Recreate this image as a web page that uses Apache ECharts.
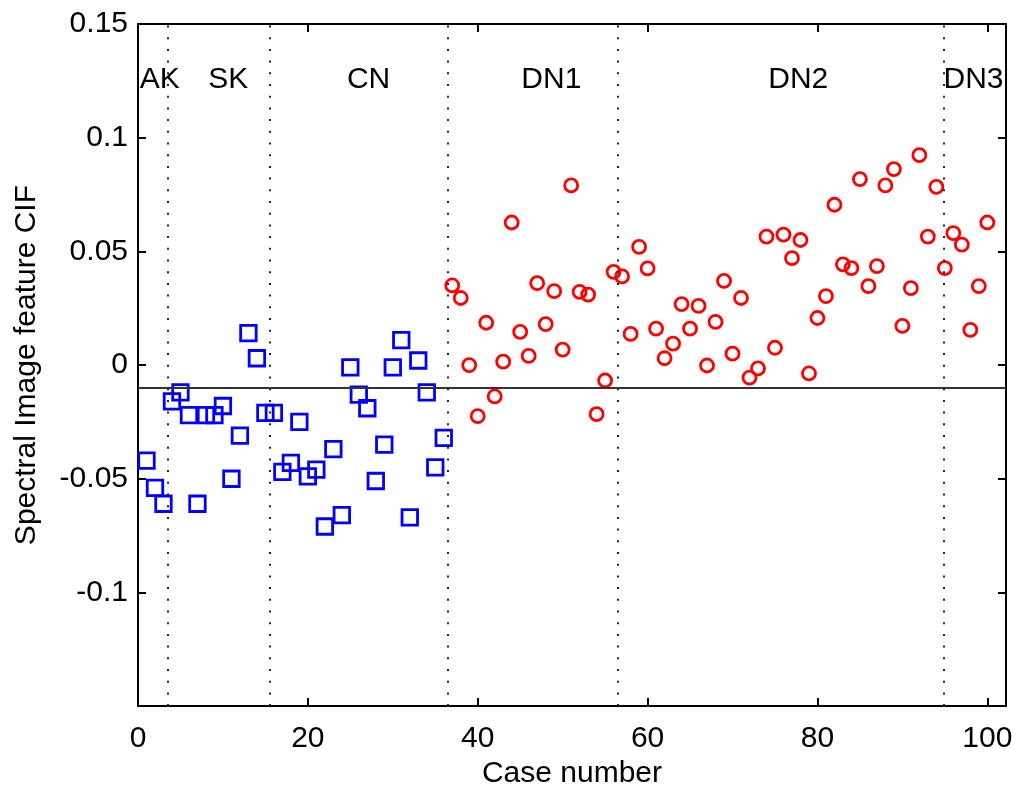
<!DOCTYPE html>
<html>
<head>
<meta charset="utf-8">
<title>Spectral Image feature CIF by case</title>
<script src="https://cdn.jsdelivr.net/npm/echarts@6/dist/echarts.min.js"></script>
<style>
  html, body { margin: 0; padding: 0; background: #fff; }
  #chart { width: 1018px; height: 794px; }
</style>
</head>
<body>
<div id="chart"></div>
<script>
// Non-diseased cases (AK, SK, CN), case numbers 1..36
const firstBlueCase = 1;
const blueValues = [
  -0.042, -0.054, -0.061, -0.016, -0.012, -0.022, -0.061, -0.022, -0.022, -0.018,
  -0.050, -0.031, 0.014, 0.003, -0.021, -0.021, -0.047, -0.043, -0.025, -0.049,
  -0.046, -0.071, -0.037, -0.066, -0.001, -0.013, -0.019, -0.051, -0.035, -0.001,
  0.011, -0.067, 0.002, -0.012, -0.045, -0.032
];

// Diseased cases (DN1, DN2, DN3), case numbers 37..100
const firstRedCase = 37;
const redValues = [
  0.035, 0.0295, 0.0, -0.0225, 0.0186, -0.0138, 0.0015, 0.0627, 0.0146, 0.004,
  0.036, 0.018, 0.0325, 0.0068, 0.079, 0.0322, 0.031, -0.0216, -0.0068, 0.041,
  0.039, 0.0137, 0.052, 0.0425, 0.016, 0.003, 0.0094, 0.0268, 0.016, 0.026,
  -0.0002, 0.019, 0.037, 0.005, 0.0295, -0.0055, -0.0015, 0.0565, 0.0076, 0.0574,
  0.047, 0.055, -0.0037, 0.0207, 0.0303, 0.0705, 0.0443, 0.0426, 0.0818, 0.0347,
  0.0435, 0.079, 0.0862, 0.0172, 0.0338, 0.0923, 0.0565, 0.0784, 0.0426, 0.058,
  0.053, 0.0155, 0.0347, 0.0627
];

// Group names, where they sit along the case axis, and the boundaries between groups
const groupNames = ['AK', 'SK', 'CN', 'DN1', 'DN2', 'DN3'];
const groupCenters = [2.56, 10.64, 27.15, 48.67, 77.74, 98.37];
const groupLabelLevel = 0.1256;
const groupBoundaries = [3.5, 15.5, 36.5, 56.5, 94.85];

// Decision threshold
const threshold = -0.01;

// Axis ranges and ticks
const xMin = 0, xMax = 102.2;
const xTicks = [0, 20, 40, 60, 80, 100];
const yMin = -0.15, yMax = 0.15;
const yTicks = [-0.15, -0.1, -0.05, 0, 0.05, 0.1, 0.15];
const yTickLabels = [-0.1, -0.05, 0, 0.05, 0.1, 0.15];

const FONT = 'Liberation Sans, Arial, Helvetica, sans-serif';
const INK = '#000';

const bluePoints = blueValues.map((v, i) => [firstBlueCase + i, v]);
const redPoints = redValues.map((v, i) => [firstRedCase + i, v]);
const groupPoints = groupNames.map((n, i) => ({ name: n, value: [groupCenters[i], groupLabelLevel] }));

const fmtY = v => String(Number(Number(v).toFixed(3)));

const chart = echarts.init(document.getElementById('chart'), null, { renderer: 'canvas' });

const frameLine = { show: true, onZero: false, lineStyle: { color: INK, width: 2 } };

chart.setOption({
  backgroundColor: '#fff',
  animation: false,
  grid: { left: 138, right: 12, top: 24, bottom: 82, containLabel: false },
  xAxis: [
    {
      type: 'value', min: xMin, max: xMax, position: 'bottom',
      name: 'Case number', nameLocation: 'middle', nameGap: 47,
      nameTextStyle: { fontFamily: FONT, fontSize: 30, color: INK },
      axisLine: frameLine,
      axisTick: { show: true, inside: true, length: 8, customValues: xTicks, lineStyle: { color: INK, width: 2 } },
      axisLabel: { show: true, customValues: xTicks, margin: 18, fontFamily: FONT, fontSize: 30, color: INK },
      splitLine: { show: false }
    },
    {
      type: 'value', min: xMin, max: xMax, position: 'top',
      axisLine: frameLine,
      axisTick: { show: true, inside: true, length: 8, customValues: xTicks, lineStyle: { color: INK, width: 2 } },
      axisLabel: { show: false },
      splitLine: { show: false }
    }
  ],
  yAxis: [
    {
      type: 'value', min: yMin, max: yMax, interval: 0.05, position: 'left',
      name: 'Spectral Image feature CIF', nameLocation: 'middle', nameGap: 96, nameRotate: 90,
      nameTextStyle: { fontFamily: FONT, fontSize: 30, color: INK },
      axisLine: frameLine,
      axisTick: { show: true, inside: true, length: 8, customValues: yTicks, lineStyle: { color: INK, width: 2 } },
      axisLabel: { show: true, customValues: yTickLabels, margin: 10, fontFamily: FONT, fontSize: 30, color: INK, formatter: fmtY },
      splitLine: { show: false }
    },
    {
      type: 'value', min: yMin, max: yMax, interval: 0.05, position: 'right',
      axisLine: frameLine,
      axisTick: { show: true, inside: true, length: 8, customValues: yTicks, lineStyle: { color: INK, width: 2 } },
      axisLabel: { show: false },
      splitLine: { show: false }
    }
  ],
  series: [
    {
      // group names plus the dotted group boundaries and the threshold line
      type: 'scatter',
      xAxisIndex: 0, yAxisIndex: 0,
      data: groupPoints,
      symbolSize: 1,
      itemStyle: { color: 'transparent', opacity: 1 },
      silent: true,
      z: 1,
      label: {
        show: true, position: 'inside', formatter: '{b}',
        fontFamily: FONT, fontSize: 30, color: INK, opacity: 1,
        textBorderWidth: 0
      },
      markLine: {
        silent: true,
        symbol: ['none', 'none'],
        label: { show: false },
        animation: false,
        data: groupBoundaries.map(b => ({
          xAxis: b,
          lineStyle: { type: [2, 9.7], color: '#222', width: 2, opacity: 1 }
        })).concat([
          { yAxis: threshold, lineStyle: { type: 'solid', color: '#333', width: 2, opacity: 1 } }
        ])
      }
    },
    {
      type: 'scatter',
      xAxisIndex: 0, yAxisIndex: 0,
      data: bluePoints,
      symbol: 'rect',
      symbolSize: 15.5,
      z: 3,
      itemStyle: { color: 'transparent', borderColor: '#0000ff', borderWidth: 2.8, opacity: 1 }
    },
    {
      type: 'scatter',
      xAxisIndex: 0, yAxisIndex: 0,
      data: redPoints,
      symbol: 'circle',
      symbolSize: 13,
      z: 3,
      itemStyle: { color: 'transparent', borderColor: '#ff0000', borderWidth: 2.8, opacity: 1 }
    }
  ]
});
</script>
</body>
</html>
